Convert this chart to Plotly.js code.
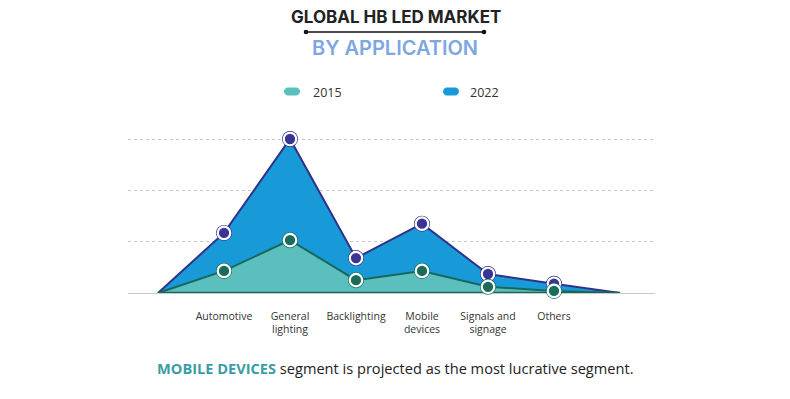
<!DOCTYPE html>
<html>
<head>
<meta charset="utf-8">
<script src="https://cdn.plot.ly/plotly-3.0.1.min.js"></script>
<style>html,body{margin:0;padding:0;background:#fff;}#chart{width:790px;height:399px;}</style>
</head>
<body>
<div id="chart"></div>
<script>
// ---- data ----
const categories = ["Automotive", "General<br>lighting", "Backlighting", "Mobile<br>devices", "Signals and<br>signage", "Others"];
const values2015 = [4.3, 10.3, 2.5, 4.3, 1.2, 0.4];
const values2022 = [11.7, 30.0, 6.8, 13.5, 3.7, 1.8];
const seriesNames = ["2015", "2022"];

// ---- layout constants (pixels) ----
const W = 790, H = 399;
const L = 128, R = 655, T = 136, B = 293;
const Y30 = 139;                        // pixel row of the value 30 gridline
const pw = R - L, ph = B - T;
const px = x => (x - L) / pw;          // pixel -> paper x
const py = y => (B - y) / ph;          // pixel -> paper y

const n = categories.length;
const xs = categories.map((_, i) => i + 1);
const xFull = [0].concat(xs, [n + 1]);
const y15 = [0].concat(values2015, [0]);
const y22 = [0].concat(values2022, [0]);

const blueFill = "#189ad8", navy = "#2e3288", navyDot = "#3a3494";
const tealFill = "#5bbfbe", tealDark = "#17685c", tealDot = "#1b6b5b";

const traces = [
  {x: xFull, y: y22, type: "scatter", mode: "lines", fill: "tozeroy", fillcolor: blueFill,
   line: {color: navy, width: 2}, name: seriesNames[1], hoverinfo: "skip", showlegend: false},
  {x: xFull, y: y15, type: "scatter", mode: "lines", fill: "tozeroy", fillcolor: tealFill,
   line: {color: tealDark, width: 2}, name: seriesNames[0], hoverinfo: "skip", showlegend: false},
  {x: [0, n + 1], y: [0, 0], type: "scatter", mode: "lines", line: {color: tealDark, width: 2.5},
   hoverinfo: "skip", showlegend: false},
  // 2022 markers
  {x: xs, y: values2022, type: "scatter", mode: "markers", cliponaxis: false,
   marker: {size: 16, color: navy}, hoverinfo: "skip", showlegend: false},
  {x: xs, y: values2022, type: "scatter", mode: "markers", cliponaxis: false,
   marker: {size: 12.5, color: navyDot, line: {color: "#ffffff", width: 2.2}}, name: seriesNames[1], showlegend: false},
  // 2015 markers
  {x: xs, y: values2015, type: "scatter", mode: "markers", cliponaxis: false,
   marker: {size: 16, color: tealDark}, hoverinfo: "skip", showlegend: false},
  {x: xs, y: values2015, type: "scatter", mode: "markers", cliponaxis: false,
   marker: {size: 12.5, color: tealDot, line: {color: "#ffffff", width: 2.2}}, name: seriesNames[0], showlegend: false}
];

function pill(cx, cy, w, h, color) {
  const r = h / 2;
  const x0 = cx - w / 2 + r, x1 = cx + w / 2 - r;
  const k = 0.5523 * r;
  const P = (x, y) => px(x) + "," + py(y);
  const d = "M" + P(x0, cy - r) + " L" + P(x1, cy - r) +
    " C" + P(x1 + k, cy - r) + " " + P(x1 + r, cy - k) + " " + P(x1 + r, cy) +
    " C" + P(x1 + r, cy + k) + " " + P(x1 + k, cy + r) + " " + P(x1, cy + r) +
    " L" + P(x0, cy + r) +
    " C" + P(x0 - k, cy + r) + " " + P(x0 - r, cy + k) + " " + P(x0 - r, cy) +
    " C" + P(x0 - r, cy - k) + " " + P(x0 - k, cy - r) + " " + P(x0, cy - r) + " Z";
  return {type: "path", xref: "paper", yref: "paper", path: d, fillcolor: color, line: {width: 0}, layer: "above"};
}
function dot(cx, cy, r, color) {
  return {type: "circle", xref: "paper", yref: "paper", x0: px(cx - r), x1: px(cx + r), y0: py(cy + r), y1: py(cy - r),
    fillcolor: color, line: {width: 0}};
}

const shapes = [
  {type: "line", xref: "paper", yref: "paper", x0: px(306), x1: px(484), y0: py(32), y1: py(32), line: {color: "#111", width: 1.3}},
  dot(306, 32, 2.3, "#111"), dot(484, 32, 2.3, "#111"),
  pill(292, 91.5, 16, 8, tealFill),
  pill(451, 91.5, 16, 8, blueFill)
];

const annotations = [
  {xref: "paper", yref: "paper", x: px(396), y: py(17), text: "<b>GLOBAL HB LED MARKET</b>", showarrow: false,
   font: {family: "Inter, 'Open Sans', sans-serif", size: 17, color: "#222"}, xanchor: "center", yanchor: "middle"},
  {xref: "paper", yref: "paper", x: px(395), y: py(48), text: "BY APPLICATION", showarrow: false,
   font: {family: "Inter, 'Open Sans', sans-serif", size: 20, color: "#7ea7e1", weight: 600}, xanchor: "center", yanchor: "middle"},
  {xref: "paper", yref: "paper", x: px(311), y: py(92), text: seriesNames[0], showarrow: false,
   font: {family: "'Open Sans', sans-serif", size: 12.5, color: "#333"}, xanchor: "left", yanchor: "middle"},
  {xref: "paper", yref: "paper", x: px(468), y: py(92), text: seriesNames[1], showarrow: false,
   font: {family: "'Open Sans', sans-serif", size: 12.5, color: "#333"}, xanchor: "left", yanchor: "middle"},
  {xref: "paper", yref: "paper", x: px(395), y: py(368), showarrow: false, xanchor: "center", yanchor: "middle",
   text: "<b><span style='color:#3a9da6'>MOBILE DEVICES</span></b> segment is projected as the most lucrative segment.",
   font: {family: "'Open Sans', sans-serif", size: 14.6, color: "#222"}}
];

const layout = {
  width: W, height: H,
  margin: {l: L, r: W - R, t: T, b: H - B, pad: 0},
  paper_bgcolor: "#fff", plot_bgcolor: "#fff",
  showlegend: false,
  xaxis: {range: [(L - 158) / 66, (n + 1) + (R - 620) / 66], tickvals: xs, ticktext: categories,
    showgrid: false, zeroline: false, showline: false, ticks: "outside", ticklen: 13, tickcolor: "rgba(0,0,0,0)",
    tickfont: {family: "'Open Sans', sans-serif", size: 10.5, color: "#333"}, fixedrange: true},
  yaxis: {range: [0, 30 * (B - T) / (B - Y30)], tickvals: [10, 20, 30], showticklabels: false, showgrid: true,
    gridcolor: "#c8c8c8", griddash: "dot", gridwidth: 1, zeroline: true, zerolinecolor: "#c8c8c8", zerolinewidth: 1,
    showline: false, fixedrange: true},
  shapes: shapes,
  annotations: annotations
};

Plotly.newPlot("chart", traces, layout, {displayModeBar: false, staticPlot: true});
</script>
</body>
</html>
